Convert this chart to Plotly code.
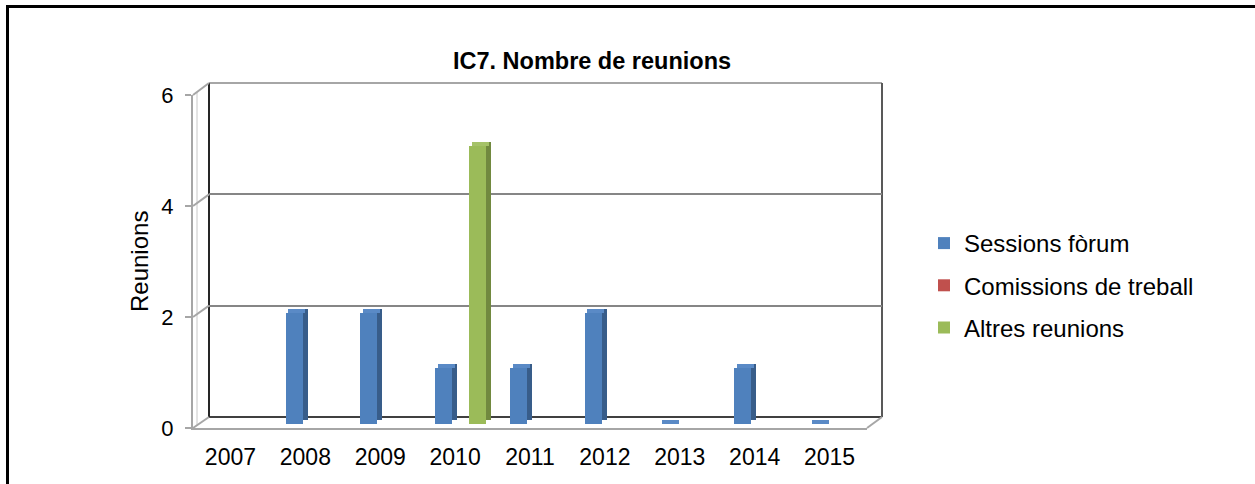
import plotly.graph_objects as go

# ---------------- data ----------------
years = ["2007", "2008", "2009", "2010", "2011", "2012", "2013", "2014", "2015"]
sessions_forum = [None, 2, 2, 1, 1, 2, 0, 1, 0]
comissions_treball = [None, None, None, None, None, None, None, None, None]
altres_reunions = [None, None, None, 5, None, None, None, None, None]
series_names = ["Sessions fòrum", "Comissions de treball", "Altres reunions"]
y_ticks = [0, 2, 4, 6]
y_max = 6
title_text = "IC7. Nombre de reunions"
y_title = "Reunions"

# ---------------- styling ----------------
front_cols = ["#4F81BD", "#C0504D", "#9BBB59"]
side_cols = ["#385D8A", "#8C3836", "#71893F"]
top_cols = ["#5A8AC6", "#C85E5B", "#A5C268"]
FONT = "Liberation Sans, Arial, sans-serif"

W, H = 1255, 484
# plot region in page pixels
L, R, T, B = 193, 882, 83, 428
PW, PH = R - L, B - T


def px_x(p):
    return (p - L) / PW


def px_y(p):
    return (B - p) / PH


# back wall, bars plane, front plane (pixel positions of depth layers)
back = dict(x0=209, x1=882, y0=417, y1=83)
mid = dict(x0=199, x1=872, y0=424, y1=90)
front = dict(x0=193, x1=867, y0=428, y1=95)

n = len(years)
cat_px = (back["x1"] - back["x0"]) / n
unit_px = (mid["y0"] - mid["y1"]) / y_max
w = 17 / cat_px
dx = 5 / cat_px
dz = 4 / unit_px

fig = go.Figure()
all_vals = [sessions_forum, comissions_treball, altres_reunions]

# anchor traces so that the back-wall and front-label subplots are drawn
fig.add_trace(go.Scatter(x=[None], y=[None], xaxis="x", yaxis="y", showlegend=False, hoverinfo="skip"))
fig.add_trace(go.Scatter(x=[None], y=[None], xaxis="x3", yaxis="y3", showlegend=False, hoverinfo="skip"))

# side faces
for k, vals in enumerate(all_vals):
    off = -1.5 * w + k * w
    fig.add_trace(go.Bar(
        x=years, y=vals, base=[dz if v is not None else None for v in vals],
        offset=off + dx, width=w, marker=dict(color=side_cols[k], line=dict(width=0)),
        xaxis="x2", yaxis="y2", showlegend=False, hoverinfo="skip", legendgroup=str(k)))
# top faces
for k, vals in enumerate(all_vals):
    off = -1.5 * w + k * w
    fig.add_trace(go.Bar(
        x=years, y=[dz if v is not None else None for v in vals], base=vals,
        offset=off + dx / 2, width=w, marker=dict(color=top_cols[k], line=dict(width=0)),
        xaxis="x2", yaxis="y2", showlegend=False, hoverinfo="skip", legendgroup=str(k)))
# front faces
for k, vals in enumerate(all_vals):
    off = -1.5 * w + k * w
    fig.add_trace(go.Bar(
        x=years, y=vals, offset=off, width=w, name=series_names[k],
        marker=dict(color=front_cols[k], line=dict(width=0)),
        xaxis="x2", yaxis="y2", legendgroup=str(k)))

shapes = []
# outer frame
shapes.append(dict(type="rect", xref="paper", yref="paper",
                   x0=px_x(7.5), x1=px_x(1400), y0=px_y(700), y1=px_y(6.5),
                   line=dict(color="black", width=3), layer="below"))
# back wall edges
shapes.append(dict(type="line", xref="paper", yref="paper", x0=px_x(back["x0"]), x1=px_x(back["x1"]),
                   y0=px_y(back["y1"]), y1=px_y(back["y1"]), line=dict(color="#a6a6a6", width=2), layer="below"))
shapes.append(dict(type="line", xref="paper", yref="paper", x0=px_x(back["x0"]), x1=px_x(back["x1"]),
                   y0=px_y(back["y0"]), y1=px_y(back["y0"]), line=dict(color="#404040", width=2), layer="below"))
shapes.append(dict(type="line", xref="paper", yref="paper", x0=px_x(back["x0"]), x1=px_x(back["x0"]),
                   y0=px_y(back["y0"]), y1=px_y(back["y1"]), line=dict(color="#262626", width=2), layer="below"))
shapes.append(dict(type="line", xref="paper", yref="paper", x0=px_x(back["x1"]), x1=px_x(back["x1"]),
                   y0=px_y(back["y0"]), y1=px_y(back["y1"]), line=dict(color="#595959", width=2), layer="below"))
# floor right diagonal
shapes.append(dict(type="line", xref="paper", yref="paper", x0=px_x(front["x1"]), x1=px_x(back["x1"]),
                   y0=px_y(front["y0"]), y1=px_y(back["y0"]), line=dict(color="#a6a6a6", width=2), layer="below"))
# inner edge of the left side wall
shapes.append(dict(type="line", xref="paper", yref="paper", x0=px_x(front["x0"] + 4), x1=px_x(front["x0"] + 4),
                   y0=px_y(front["y0"] - 3), y1=px_y(front["y1"] - 3), line=dict(color="#c8c8c8", width=1),
                   layer="below"))
# diagonal connectors at each tick level
for v in y_ticks:
    fy = front["y0"] - (front["y0"] - front["y1"]) * v / y_max
    by = back["y0"] - (back["y0"] - back["y1"]) * v / y_max
    shapes.append(dict(type="line", xref="paper", yref="paper", x0=px_x(front["x0"]), x1=px_x(back["x0"]),
                       y0=px_y(fy), y1=px_y(by), line=dict(color="#a6a6a6", width=2), layer="below"))

fig.update_layout(
    width=W, height=H,
    margin=dict(l=L, r=W - R, t=T, b=H - B, pad=0),
    paper_bgcolor="white", plot_bgcolor="rgba(0,0,0,0)",
    barmode="overlay", bargap=0,
    font=dict(family=FONT, color="black"),
    title=dict(text="<b>" + title_text + "</b>", x=592 / W, xanchor="center",
               y=1 - 61 / H, yanchor="middle", xref="container", yref="container",
               font=dict(size=23.5, family=FONT, color="black")),
    showlegend=True,
    legend=dict(x=px_x(924), xanchor="left", y=px_y(221), yanchor="top",
                font=dict(size=24, family=FONT), tracegroupgap=8,
                bgcolor="rgba(0,0,0,0)", traceorder="grouped", itemclick=False, itemdoubleclick=False),
    shapes=shapes,
    # back wall
    xaxis=dict(domain=[px_x(back["x0"]), px_x(back["x1"])], range=[-0.5, n - 0.5], type="linear",
               showgrid=False, showticklabels=False, zeroline=False, anchor="y", fixedrange=True),
    yaxis=dict(domain=[px_y(back["y0"]), px_y(back["y1"])], range=[0, y_max], tickvals=y_ticks,
               showgrid=True, gridcolor="#868686", gridwidth=2, showticklabels=False,
               zeroline=False, anchor="x", fixedrange=True),
    # bars plane
    xaxis2=dict(domain=[px_x(mid["x0"]), px_x(mid["x1"])], range=[-0.5, n - 0.5], type="category",
                categoryorder="array", categoryarray=years, visible=False, anchor="y2", fixedrange=True),
    yaxis2=dict(domain=[px_y(mid["y0"]), px_y(mid["y1"])], range=[0, y_max], visible=False,
                anchor="x2", fixedrange=True),
    # front plane (labels)
    xaxis3=dict(domain=[px_x(front["x0"]), px_x(front["x1"])], range=[-0.5, n - 0.5], type="linear",
                tickmode="array", tickvals=list(range(n)), ticktext=years, ticks="",
                ticklabelstandoff=7, tickfont=dict(size=23, family=FONT, color="black"),
                showline=True, linecolor="#a6a6a6", linewidth=2, showgrid=False, zeroline=False,
                anchor="y3", fixedrange=True),
    yaxis3=dict(domain=[px_y(front["y0"]), px_y(front["y1"])], range=[0, y_max], tickmode="array",
                tickvals=y_ticks, ticks="outside", ticklen=6, tickcolor="#a6a6a6", tickwidth=2,
                ticklabelstandoff=7, tickfont=dict(size=22, family=FONT, color="black"),
                showline=True, linecolor="#a6a6a6", linewidth=2, showgrid=False, zeroline=False,
                anchor="x3", fixedrange=True),
    annotations=[dict(text=y_title, xref="paper", yref="paper", x=px_x(139), y=px_y(262),
                      xanchor="center", yanchor="middle", textangle=-90, showarrow=False,
                      font=dict(size=24, family=FONT, color="black"))],
)

fig.write_html("out.html", config={"displayModeBar": False},
               post_script="document.body.style.margin='0';")
